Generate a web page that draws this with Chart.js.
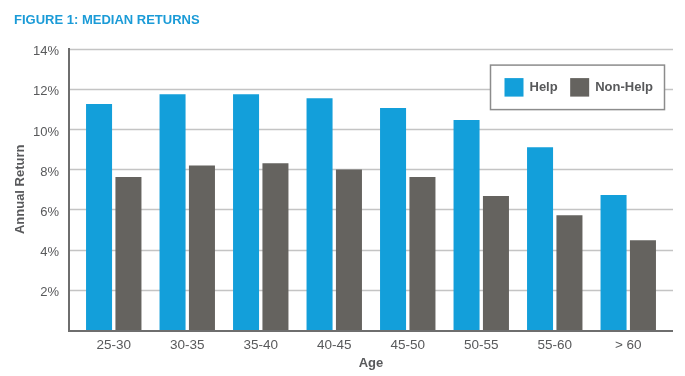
<!DOCTYPE html>
<html>
<head>
<meta charset="utf-8">
<title>Figure 1: Median Returns</title>
<script src="https://cdn.jsdelivr.net/npm/chart.js@4/dist/chart.umd.min.js"></script>
<style>
  html, body { margin: 0; padding: 0; background: #fff; }
  #wrap { position: relative; width: 685px; height: 376px; }
</style>
</head>
<body>
<div id="wrap"><canvas id="chart"></canvas></div>
<script>
// Дані графіка
const ageGroups = ['25-30', '30-35', '35-40', '40-45', '45-50', '50-55', '55-60', '> 60'];
const helpReturns = [11.25, 11.73, 11.73, 11.53, 11.04, 10.45, 9.09, 6.72];
const nonHelpReturns = [7.61, 8.19, 8.29, 7.99, 7.61, 6.67, 5.71, 4.46];
const yTicks = [0, 2, 4, 6, 8, 10, 12, 14];

const FONT = '"Liberation Sans", Arial, Helvetica, sans-serif';
const TEXT = '#58595b';
const GRID = '#c4c4c4';
const AXIS = '#6e6e6e';

// Сітка і осі, що виходять трохи за межі області графіка
const framePlugin = {
  id: 'frame',
  beforeDatasetsDraw(chart) {
    const { ctx, chartArea, scales: { y } } = chart;
    const left = chartArea.left - 8, right = chartArea.right + 8;
    ctx.save();
    ctx.strokeStyle = GRID;
    ctx.lineWidth = 1.5;
    yTicks.filter(v => v > 0).forEach(v => {
      const py = Math.round(y.getPixelForValue(v)) + 0.5;
      ctx.beginPath();
      ctx.moveTo(left, py);
      ctx.lineTo(right, py);
      ctx.stroke();
    });
    ctx.restore();
  },
  afterDatasetsDraw(chart) {
    const { ctx, chartArea, scales: { y } } = chart;
    const left = chartArea.left - 8, right = chartArea.right + 8;
    const top = y.getPixelForValue(14), bottom = y.getPixelForValue(0);
    ctx.save();
    ctx.strokeStyle = AXIS;
    ctx.lineWidth = 2;
    ctx.beginPath();
    ctx.moveTo(left, top - 0.5);
    ctx.lineTo(left, bottom + 1);
    ctx.lineTo(right, bottom + 1);
    ctx.stroke();
    ctx.restore();
  }
};

// Легенда в рамці у правому верхньому куті
const boxLegendPlugin = {
  id: 'boxLegend',
  afterDraw(chart) {
    const { ctx, chartArea } = chart;
    const bx = chartArea.right - 174.5, by = chartArea.top + 16.5, bw = 174, bh = 44.5;
    ctx.save();
    ctx.fillStyle = '#fff';
    ctx.fillRect(bx, by, bw, bh);
    ctx.strokeStyle = '#8c8c8c';
    ctx.lineWidth = 1.5;
    ctx.strokeRect(bx, by, bw, bh);
    ctx.font = 'bold 13px ' + FONT;
    ctx.textBaseline = 'middle';
    let x = bx + 14;
    const cy = by + 22.5;
    chart.data.datasets.forEach(ds => {
      ctx.fillStyle = ds.backgroundColor;
      ctx.fillRect(x, cy - 9.5, 19, 18.5);
      x += 25;
      ctx.fillStyle = TEXT;
      ctx.fillText(ds.label, x, cy);
      x += ctx.measureText(ds.label).width + 12.5;
    });
    ctx.restore();
  }
};

new Chart(document.getElementById('chart'), {
  type: 'bar',
  data: {
    labels: ageGroups,
    datasets: [
      { label: 'Help', data: helpReturns, backgroundColor: '#139fda' },
      { label: 'Non-Help', data: nonHelpReturns, backgroundColor: '#65635f' }
    ]
  },
  options: {
    responsive: true,
    maintainAspectRatio: false,
    animation: false,
    layout: { padding: { left: 14, right: 20, top: 0, bottom: 0 } },
    datasets: {
      bar: { categoryPercentage: 0.8, barPercentage: 0.885 }
    },
    scales: {
      x: {
        grid: { display: false, drawTicks: false },
        border: { display: false },
        ticks: { color: TEXT, font: { family: FONT, size: 13.5 }, padding: 7 },
        title: {
          display: true, text: 'Age', color: TEXT,
          font: { family: FONT, size: 13, weight: 'bold' },
          padding: { top: 0, bottom: 5 }
        },
        afterFit(scale) { scale.height = 46; }
      },
      y: {
        min: 0,
        max: 14,
        grid: { display: false, drawTicks: false },
        border: { display: false },
        afterBuildTicks(scale) { scale.ticks = yTicks.map(v => ({ value: v })); },
        ticks: {
          color: TEXT,
          font: { family: FONT, size: 13 },
          padding: 18,
          labelOffset: 3,
          callback: v => (v === 0 ? '' : v + '%')
        },
        title: {
          display: true, text: 'Annual Return', color: TEXT,
          font: { family: FONT, size: 13, weight: 'bold', lineHeight: 1 },
          padding: { top: 0, bottom: 0 }
        },
        afterFit(scale) { scale.width = 63; }
      }
    },
    plugins: {
      legend: { display: false },
      tooltip: { enabled: false },
      title: {
        display: true,
        text: 'FIGURE 1: MEDIAN RETURNS',
        align: 'start',
        color: '#1b9bd7',
        font: { family: FONT, size: 13, weight: 'bold', lineHeight: 1.2 },
        padding: { top: 13, bottom: 20 }
      }
    }
  },
  plugins: [framePlugin, boxLegendPlugin]
});
</script>
</body>
</html>
